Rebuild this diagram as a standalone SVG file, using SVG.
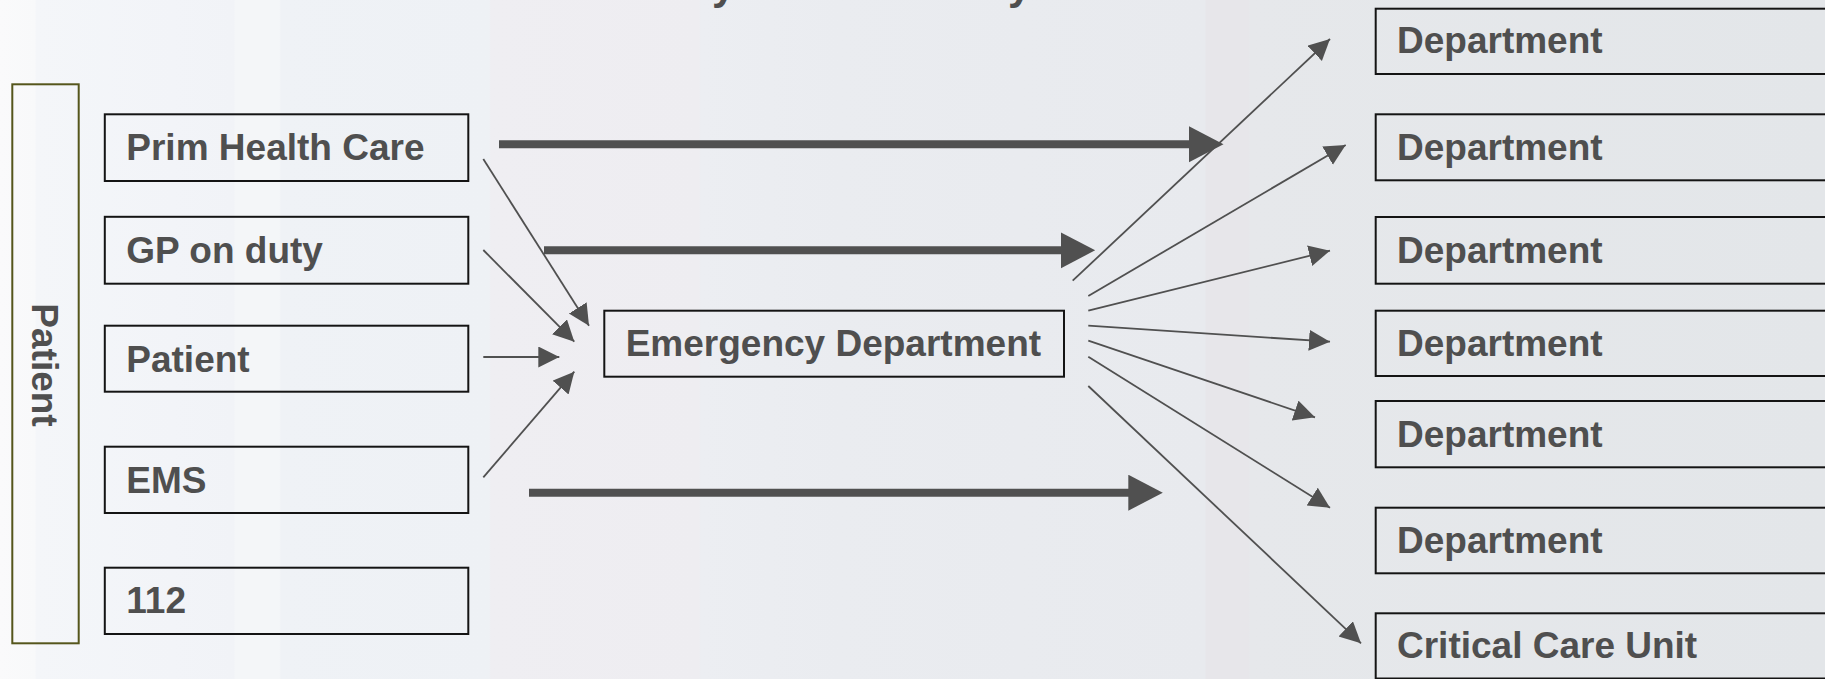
<svg xmlns="http://www.w3.org/2000/svg" width="1825" height="679" viewBox="0 0 1825 679">
<defs>
<linearGradient id="bg" x1="0" y1="0" x2="1825" y2="0" gradientUnits="userSpaceOnUse">
<stop offset="0" stop-color="#fafafb"/>
<stop offset="0.019" stop-color="#f8f9fa"/>
<stop offset="0.02" stop-color="#f4f6f9"/>
<stop offset="0.095" stop-color="#f2f4f8"/>
<stop offset="0.128" stop-color="#f1f3f7"/>
<stop offset="0.129" stop-color="#f4f6f8"/>
<stop offset="0.153" stop-color="#f4f6f8"/>
<stop offset="0.154" stop-color="#eff2f6"/>
<stop offset="0.268" stop-color="#eef1f5"/>
<stop offset="0.269" stop-color="#efeef2"/>
<stop offset="0.383" stop-color="#eeedf1"/>
<stop offset="0.384" stop-color="#eceef2"/>
<stop offset="0.46" stop-color="#eaecf0"/>
<stop offset="0.66" stop-color="#e8eaee"/>
<stop offset="0.661" stop-color="#e7e6ea"/>
<stop offset="0.684" stop-color="#e7e6ea"/>
<stop offset="0.685" stop-color="#e6e8eb"/>
<stop offset="1" stop-color="#e3e6e9"/>
</linearGradient>
<marker id="ah" markerUnits="userSpaceOnUse" markerWidth="22" markerHeight="22" refX="21" refY="10.5" orient="auto" viewBox="0 0 22 22">
<path d="M0,0 L21,10.5 L0,21 z" fill="#505050"/>
</marker>
<marker id="ahl" markerUnits="userSpaceOnUse" markerWidth="36" markerHeight="37" refX="2" refY="18" orient="auto" viewBox="0 0 36 37">
<path d="M0,0 L34.5,18 L0,36 z" fill="#505050"/>
</marker>
</defs>
<style>
.box{fill:none;stroke:#141414;stroke-width:2}
.pbox{fill:none;stroke:#55561c;stroke-width:2}
.lbl{font-family:"Liberation Sans",Arial,Helvetica,sans-serif;font-weight:bold;font-size:37px;fill:#4f4f4f}
.thin{stroke:#505050;stroke-width:1.8;fill:none;marker-end:url(#ah)}
.thick{stroke:#505050;stroke-width:8;fill:none;marker-end:url(#ahl)}
</style>
<rect x="0" y="0" width="1825" height="679" fill="url(#bg)"/>

<g id="title">
<text class="lbl" x="712" y="-1" style="font-size:42px">y</text>
<text class="lbl" x="1008" y="-1" style="font-size:42px">y</text>
</g>

<g id="patient-side">
<rect class="pbox" x="12.3" y="84.3" width="66.4" height="559"/>
<text class="lbl" text-anchor="middle" transform="translate(31.7,365) rotate(90)">Patient</text>
</g>

<g id="prim-health-care">
<rect class="box" x="104.8" y="114.3" width="363.5" height="66.7"/>
<text class="lbl" x="126.3" y="160">Prim Health Care</text>
</g>
<g id="gp-on-duty">
<rect class="box" x="104.8" y="216.8" width="363.5" height="66.9"/>
<text class="lbl" x="126.3" y="263.3">GP on duty</text>
</g>
<g id="patient">
<rect class="box" x="104.8" y="325.7" width="363.5" height="66"/>
<text class="lbl" x="126.3" y="372.3">Patient</text>
</g>
<g id="ems">
<rect class="box" x="104.8" y="446.7" width="363.5" height="66.3"/>
<text class="lbl" x="126.3" y="492.7">EMS</text>
</g>
<g id="n112">
<rect class="box" x="104.8" y="567.7" width="363.5" height="66.3"/>
<text class="lbl" x="126.3" y="613.3">112</text>
</g>

<g id="emergency-department">
<rect class="box" x="604.3" y="310.7" width="459.7" height="66"/>
<text class="lbl" x="625.7" y="356">Emergency Department</text>
</g>

<g id="dept1">
<rect class="box" x="1375.7" y="8.7" width="470" height="65.3"/>
<text class="lbl" x="1397" y="53.3">Department</text>
</g>
<g id="dept2">
<rect class="box" x="1375.7" y="114.3" width="470" height="66"/>
<text class="lbl" x="1397" y="160">Department</text>
</g>
<g id="dept3">
<rect class="box" x="1375.7" y="217" width="470" height="66.7"/>
<text class="lbl" x="1397" y="263.3">Department</text>
</g>
<g id="dept4">
<rect class="box" x="1375.7" y="310.7" width="470" height="65.3"/>
<text class="lbl" x="1397" y="356">Department</text>
</g>
<g id="dept5">
<rect class="box" x="1375.7" y="401" width="470" height="66.3"/>
<text class="lbl" x="1397" y="446.7">Department</text>
</g>
<g id="dept6">
<rect class="box" x="1375.7" y="507.7" width="470" height="65.6"/>
<text class="lbl" x="1397" y="552.6">Department</text>
</g>
<g id="critical-care-unit">
<rect class="box" x="1375.7" y="613.3" width="470" height="65.2"/>
<text class="lbl" x="1397" y="658">Critical Care Unit</text>
</g>

<g id="connectors">
<line class="thick" x1="499" y1="144.2" x2="1191" y2="144.2"/>
<line class="thick" x1="544" y1="250.3" x2="1062.7" y2="250.3"/>
<line class="thick" x1="529" y1="492.7" x2="1130.3" y2="492.7"/>

<line class="thin" x1="483.3" y1="159" x2="589" y2="325.7"/>
<line class="thin" x1="483.3" y1="250" x2="574.3" y2="341.7"/>
<line class="thin" x1="483.3" y1="357" x2="559.3" y2="357"/>
<line class="thin" x1="483.3" y1="477.3" x2="574.3" y2="371.7"/>

<line class="thin" x1="1072.7" y1="280.7" x2="1330" y2="39"/>
<line class="thin" x1="1088.3" y1="296" x2="1345.7" y2="145"/>
<line class="thin" x1="1088.3" y1="310.7" x2="1330" y2="250.7"/>
<line class="thin" x1="1088.3" y1="325.7" x2="1330" y2="341.7"/>
<line class="thin" x1="1088.3" y1="340.7" x2="1315" y2="417.3"/>
<line class="thin" x1="1088.3" y1="356.7" x2="1330" y2="507.7"/>
<line class="thin" x1="1088.3" y1="386" x2="1361" y2="643.3"/>
</g>
</svg>
